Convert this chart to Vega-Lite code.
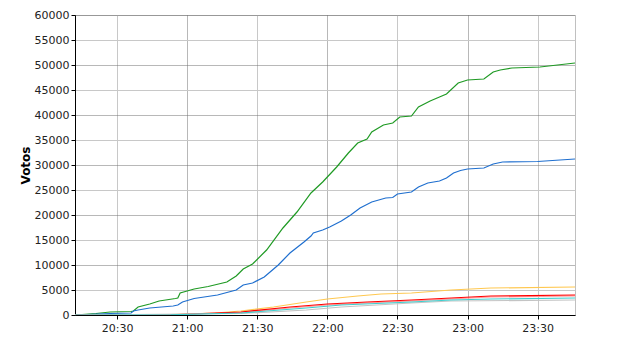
{
  "$schema": "https://vega.github.io/schema/vega-lite/v6.json",
  "width": 500,
  "height": 300,
  "autosize": {"type": "none"},
  "padding": {"left": 75, "top": 15, "right": 65, "bottom": 35},
  "background": "white",
  "config": {
    "view": {"stroke": "#808080", "strokeDash": [1, 1], "strokeWidth": 1},
    "axis": {
      "labelFont": "DejaVu Sans",
      "labelFontSize": 11,
      "labelColor": "#222222",
      "titleFont": "DejaVu Sans",
      "domainColor": "#000000",
      "tickColor": "#000000",
      "tickSize": 4
    }
  },
  "datasets": {
    "votos": [
      {"t": "2011-05-22T20:12", "s": "verde", "v": 0},
      {"t": "2011-05-22T20:21", "s": "verde", "v": 300},
      {"t": "2011-05-22T20:27", "s": "verde", "v": 600},
      {"t": "2011-05-22T20:36", "s": "verde", "v": 700},
      {"t": "2011-05-22T20:37", "s": "verde", "v": 800},
      {"t": "2011-05-22T20:39", "s": "verde", "v": 1600},
      {"t": "2011-05-22T20:44", "s": "verde", "v": 2200},
      {"t": "2011-05-22T20:48", "s": "verde", "v": 2800},
      {"t": "2011-05-22T20:55", "s": "verde", "v": 3300},
      {"t": "2011-05-22T20:56", "s": "verde", "v": 3400},
      {"t": "2011-05-22T20:57", "s": "verde", "v": 4400},
      {"t": "2011-05-22T21:03", "s": "verde", "v": 5200},
      {"t": "2011-05-22T21:09", "s": "verde", "v": 5700},
      {"t": "2011-05-22T21:17", "s": "verde", "v": 6600},
      {"t": "2011-05-22T21:21", "s": "verde", "v": 7800},
      {"t": "2011-05-22T21:24", "s": "verde", "v": 9200},
      {"t": "2011-05-22T21:28", "s": "verde", "v": 10200},
      {"t": "2011-05-22T21:34", "s": "verde", "v": 13000},
      {"t": "2011-05-22T21:41", "s": "verde", "v": 17400},
      {"t": "2011-05-22T21:47", "s": "verde", "v": 20600},
      {"t": "2011-05-22T21:53", "s": "verde", "v": 24400},
      {"t": "2011-05-22T21:58", "s": "verde", "v": 26600},
      {"t": "2011-05-22T22:00", "s": "verde", "v": 27600},
      {"t": "2011-05-22T22:04", "s": "verde", "v": 29600},
      {"t": "2011-05-22T22:09", "s": "verde", "v": 32400},
      {"t": "2011-05-22T22:13", "s": "verde", "v": 34400},
      {"t": "2011-05-22T22:17", "s": "verde", "v": 35200},
      {"t": "2011-05-22T22:19", "s": "verde", "v": 36600},
      {"t": "2011-05-22T22:24", "s": "verde", "v": 38000},
      {"t": "2011-05-22T22:28", "s": "verde", "v": 38400},
      {"t": "2011-05-22T22:31", "s": "verde", "v": 39600},
      {"t": "2011-05-22T22:36", "s": "verde", "v": 39800},
      {"t": "2011-05-22T22:39", "s": "verde", "v": 41600},
      {"t": "2011-05-22T22:44", "s": "verde", "v": 42800},
      {"t": "2011-05-22T22:48", "s": "verde", "v": 43600},
      {"t": "2011-05-22T22:51", "s": "verde", "v": 44200},
      {"t": "2011-05-22T22:56", "s": "verde", "v": 46400},
      {"t": "2011-05-22T23:00", "s": "verde", "v": 47000},
      {"t": "2011-05-22T23:07", "s": "verde", "v": 47200},
      {"t": "2011-05-22T23:11", "s": "verde", "v": 48600},
      {"t": "2011-05-22T23:14", "s": "verde", "v": 49000},
      {"t": "2011-05-22T23:19", "s": "verde", "v": 49400},
      {"t": "2011-05-22T23:31", "s": "verde", "v": 49600},
      {"t": "2011-05-22T23:46", "s": "verde", "v": 50400},

      {"t": "2011-05-22T20:12", "s": "azul", "v": 0},
      {"t": "2011-05-22T20:27", "s": "azul", "v": 300},
      {"t": "2011-05-22T20:36", "s": "azul", "v": 400},
      {"t": "2011-05-22T20:37", "s": "azul", "v": 800},
      {"t": "2011-05-22T20:39", "s": "azul", "v": 1000},
      {"t": "2011-05-22T20:44", "s": "azul", "v": 1400},
      {"t": "2011-05-22T20:54", "s": "azul", "v": 1800},
      {"t": "2011-05-22T20:56", "s": "azul", "v": 2000},
      {"t": "2011-05-22T20:58", "s": "azul", "v": 2600},
      {"t": "2011-05-22T21:03", "s": "azul", "v": 3300},
      {"t": "2011-05-22T21:13", "s": "azul", "v": 4000},
      {"t": "2011-05-22T21:21", "s": "azul", "v": 5000},
      {"t": "2011-05-22T21:24", "s": "azul", "v": 6000},
      {"t": "2011-05-22T21:28", "s": "azul", "v": 6400},
      {"t": "2011-05-22T21:33", "s": "azul", "v": 7600},
      {"t": "2011-05-22T21:39", "s": "azul", "v": 10000},
      {"t": "2011-05-22T21:44", "s": "azul", "v": 12400},
      {"t": "2011-05-22T21:50", "s": "azul", "v": 14600},
      {"t": "2011-05-22T21:53", "s": "azul", "v": 15800},
      {"t": "2011-05-22T21:54", "s": "azul", "v": 16400},
      {"t": "2011-05-22T21:58", "s": "azul", "v": 17000},
      {"t": "2011-05-22T22:01", "s": "azul", "v": 17600},
      {"t": "2011-05-22T22:06", "s": "azul", "v": 18800},
      {"t": "2011-05-22T22:10", "s": "azul", "v": 20000},
      {"t": "2011-05-22T22:14", "s": "azul", "v": 21400},
      {"t": "2011-05-22T22:19", "s": "azul", "v": 22600},
      {"t": "2011-05-22T22:25", "s": "azul", "v": 23400},
      {"t": "2011-05-22T22:28", "s": "azul", "v": 23500},
      {"t": "2011-05-22T22:30", "s": "azul", "v": 24200},
      {"t": "2011-05-22T22:36", "s": "azul", "v": 24600},
      {"t": "2011-05-22T22:39", "s": "azul", "v": 25600},
      {"t": "2011-05-22T22:43", "s": "azul", "v": 26400},
      {"t": "2011-05-22T22:48", "s": "azul", "v": 26800},
      {"t": "2011-05-22T22:51", "s": "azul", "v": 27400},
      {"t": "2011-05-22T22:54", "s": "azul", "v": 28400},
      {"t": "2011-05-22T22:57", "s": "azul", "v": 28900},
      {"t": "2011-05-22T23:00", "s": "azul", "v": 29200},
      {"t": "2011-05-22T23:07", "s": "azul", "v": 29400},
      {"t": "2011-05-22T23:11", "s": "azul", "v": 30200},
      {"t": "2011-05-22T23:15", "s": "azul", "v": 30600},
      {"t": "2011-05-22T23:30", "s": "azul", "v": 30700},
      {"t": "2011-05-22T23:46", "s": "azul", "v": 31200},

      {"t": "2011-05-22T20:12", "s": "amarillo", "v": 0},
      {"t": "2011-05-22T20:53", "s": "amarillo", "v": 100},
      {"t": "2011-05-22T21:12", "s": "amarillo", "v": 400},
      {"t": "2011-05-22T21:23", "s": "amarillo", "v": 800},
      {"t": "2011-05-22T21:37", "s": "amarillo", "v": 1600},
      {"t": "2011-05-22T21:51", "s": "amarillo", "v": 2600},
      {"t": "2011-05-22T22:00", "s": "amarillo", "v": 3200},
      {"t": "2011-05-22T22:13", "s": "amarillo", "v": 3800},
      {"t": "2011-05-22T22:23", "s": "amarillo", "v": 4200},
      {"t": "2011-05-22T22:36", "s": "amarillo", "v": 4400},
      {"t": "2011-05-22T22:53", "s": "amarillo", "v": 5000},
      {"t": "2011-05-22T23:10", "s": "amarillo", "v": 5400},
      {"t": "2011-05-22T23:46", "s": "amarillo", "v": 5600},

      {"t": "2011-05-22T20:12", "s": "rosa", "v": 0},
      {"t": "2011-05-22T20:53", "s": "rosa", "v": 40},
      {"t": "2011-05-22T21:23", "s": "rosa", "v": 500},
      {"t": "2011-05-22T21:44", "s": "rosa", "v": 1400},
      {"t": "2011-05-22T22:00", "s": "rosa", "v": 2000},
      {"t": "2011-05-22T22:17", "s": "rosa", "v": 2400},
      {"t": "2011-05-22T22:36", "s": "rosa", "v": 2800},
      {"t": "2011-05-22T22:53", "s": "rosa", "v": 3200},
      {"t": "2011-05-22T23:10", "s": "rosa", "v": 3600},
      {"t": "2011-05-22T23:46", "s": "rosa", "v": 3800},

      {"t": "2011-05-22T20:12", "s": "rojo", "v": 0},
      {"t": "2011-05-22T20:53", "s": "rojo", "v": 50},
      {"t": "2011-05-22T21:23", "s": "rojo", "v": 600},
      {"t": "2011-05-22T21:44", "s": "rojo", "v": 1600},
      {"t": "2011-05-22T22:00", "s": "rojo", "v": 2200},
      {"t": "2011-05-22T22:17", "s": "rojo", "v": 2600},
      {"t": "2011-05-22T22:36", "s": "rojo", "v": 3000},
      {"t": "2011-05-22T22:53", "s": "rojo", "v": 3400},
      {"t": "2011-05-22T23:10", "s": "rojo", "v": 3800},
      {"t": "2011-05-22T23:46", "s": "rojo", "v": 4000},

      {"t": "2011-05-22T20:12", "s": "gris", "v": 0},
      {"t": "2011-05-22T21:23", "s": "gris", "v": 300},
      {"t": "2011-05-22T21:51", "s": "gris", "v": 1000},
      {"t": "2011-05-22T22:06", "s": "gris", "v": 1600},
      {"t": "2011-05-22T22:36", "s": "gris", "v": 2400},
      {"t": "2011-05-22T22:53", "s": "gris", "v": 2800},
      {"t": "2011-05-22T23:46", "s": "gris", "v": 3000},

      {"t": "2011-05-22T20:12", "s": "cian", "v": 0},
      {"t": "2011-05-22T20:53", "s": "cian", "v": 50},
      {"t": "2011-05-22T21:23", "s": "cian", "v": 400},
      {"t": "2011-05-22T21:51", "s": "cian", "v": 1400},
      {"t": "2011-05-22T22:06", "s": "cian", "v": 2000},
      {"t": "2011-05-22T22:36", "s": "cian", "v": 2600},
      {"t": "2011-05-22T22:53", "s": "cian", "v": 3000},
      {"t": "2011-05-22T23:10", "s": "cian", "v": 3200},
      {"t": "2011-05-22T23:46", "s": "cian", "v": 3400}
    ]
  },
  "data": {"name": "votos"},
  "mark": {"type": "line", "strokeWidth": 1.2, "clip": true},
  "encoding": {
    "x": {
      "field": "t",
      "type": "temporal",
      "title": null,
      "scale": {
        "domain": [
          {"year": 2011, "month": 5, "date": 22, "hours": 20, "minutes": 12},
          {"year": 2011, "month": 5, "date": 22, "hours": 23, "minutes": 46}
        ]
      },
      "axis": {
        "format": "%H:%M",
        "values": [
          {"year": 2011, "month": 5, "date": 22, "hours": 20, "minutes": 30},
          {"year": 2011, "month": 5, "date": 22, "hours": 21, "minutes": 0},
          {"year": 2011, "month": 5, "date": 22, "hours": 21, "minutes": 30},
          {"year": 2011, "month": 5, "date": 22, "hours": 22, "minutes": 0},
          {"year": 2011, "month": 5, "date": 22, "hours": 22, "minutes": 30},
          {"year": 2011, "month": 5, "date": 22, "hours": 23, "minutes": 0},
          {"year": 2011, "month": 5, "date": 22, "hours": 23, "minutes": 30}
        ],
        "labelPadding": 3,
        "gridColor": {"condition": {"test": "minutes(datum.value) == 0", "value": "#707070"}, "value": "#c8c8c8"},
        "gridDash": {"condition": {"test": "minutes(datum.value) == 0", "value": [1, 1]}, "value": []},
        "labelFlush": false
      }
    },
    "y": {
      "field": "v",
      "type": "quantitative",
      "title": "Votos",
      "scale": {"domain": [0, 60000], "nice": false},
      "axis": {
        "values": [0, 5000, 10000, 15000, 20000, 25000, 30000, 35000, 40000, 45000, 50000, 55000, 60000],
        "format": "d",
        "labelPadding": 2,
        "titleFontSize": 12,
        "titleFontWeight": "bold",
        "titleColor": "#000000",
        "titlePadding": 2,
        "gridColor": {"condition": {"test": "datum.value % 10000 == 0", "value": "#707070"}, "value": "#c8c8c8"},
        "gridDash": {"condition": {"test": "datum.value % 10000 == 0", "value": [1, 1]}, "value": []}
      }
    },
    "color": {
      "field": "s",
      "type": "nominal",
      "legend": null,
      "scale": {
        "domain": ["verde", "azul", "amarillo", "rosa", "rojo", "gris", "cian"],
        "range": ["#1f9a24", "#1f6fcf", "#ffc850", "#ff9a9a", "#ff0000", "#c4c4c4", "#3ccfcf"]
      }
    }
  }
}
